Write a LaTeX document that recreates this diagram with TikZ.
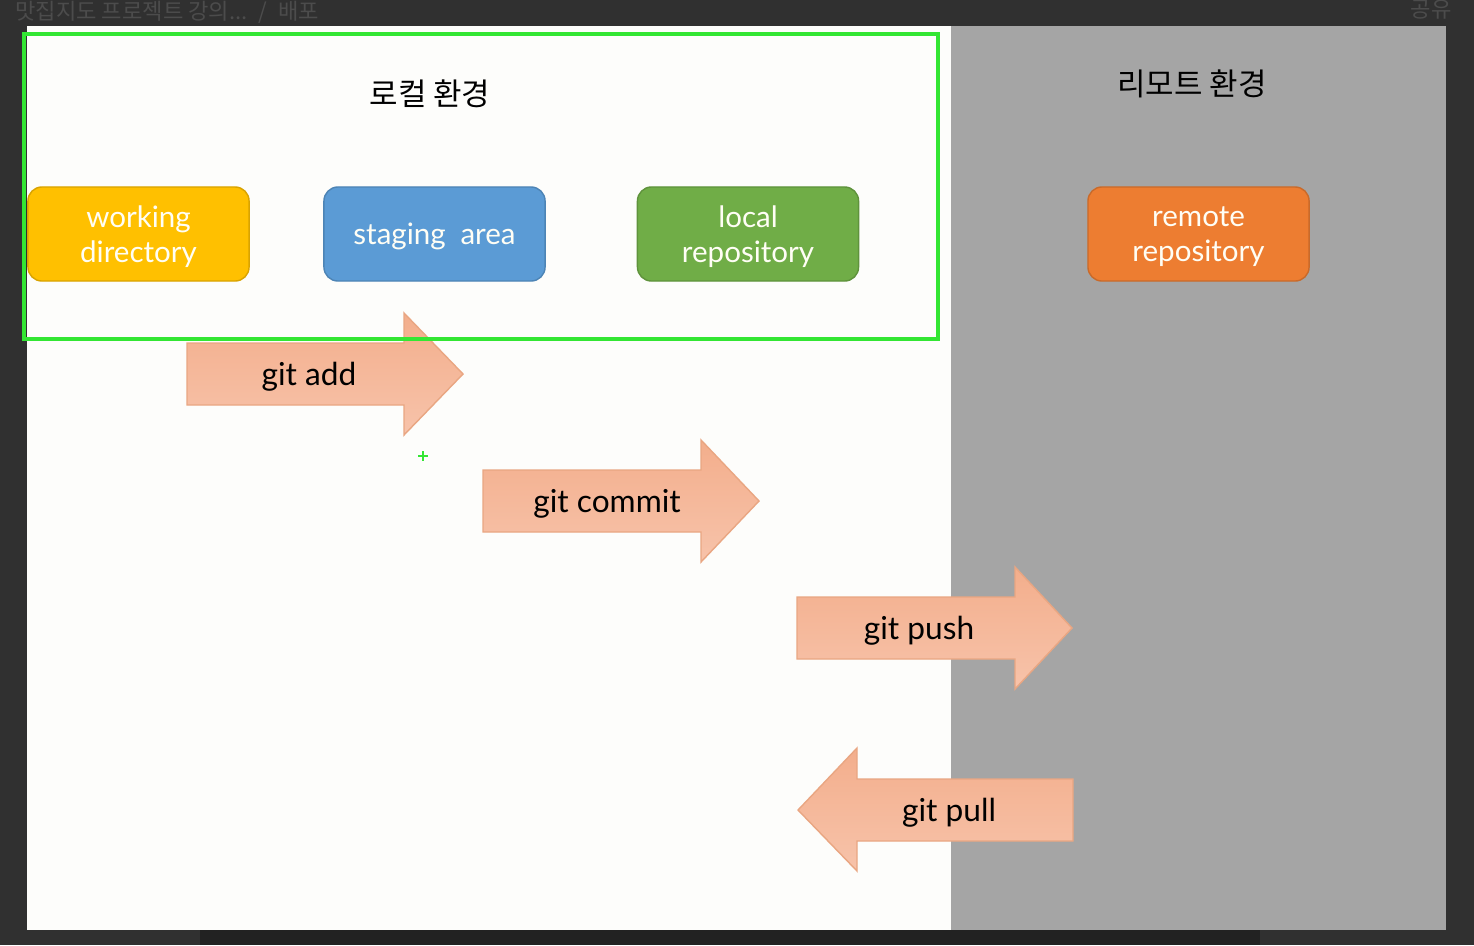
\documentclass[tikz,border=0pt]{standalone}
\usepackage{fontspec}
\setmainfont{Lato}
\newfontfamily\kfont{Noto Sans CJK KR}
\definecolor{bgdark}{HTML}{303030}
\definecolor{bgdeep}{HTML}{222222}
\definecolor{bartext}{HTML}{4C4C4C}
\definecolor{pagewhite}{HTML}{FDFDFB}
\definecolor{panelgray}{HTML}{A5A5A5}
\definecolor{framegreen}{HTML}{33E633}
\definecolor{wdyellow}{HTML}{FFC000}
\definecolor{stblue}{HTML}{5B9BD5}
\definecolor{lrgreen}{HTML}{70AD47}
\definecolor{rrorange}{HTML}{ED7D31}
\definecolor{arrowtop}{HTML}{F3AE8C}
\definecolor{arrowbot}{HTML}{F7C3AA}
\definecolor{arrowline}{HTML}{E9A682}
\tikzset{
  gitbox/.style={
    shape = rectangle,
    rounded corners=0.14cm,
    draw=#1!85!black,
    fill=#1,
    minimum width=2.21cm,
    minimum height=0.94cm,
    text depth=0pt,
    text=white!96!yellow,
    align=center,
    font=\fontsize{8.4}{10}\selectfont
  },
  gitarrow/.style={
    draw=arrowline,
    top color=arrowtop,
    bottom color=arrowbot,
    line width=0.4pt
  },
  cmd/.style={
    font=\fontsize{9}{11}\selectfont,
    text=black
  },
  envtitle/.style={
    font=\kfont\fontsize{8.8}{10}\selectfont,
    text=black
  }
}

\begin{document}
\begin{tikzpicture}[x=0.01cm,y=-0.01cm]
  \useasboundingbox (0,0) rectangle (1474,945);
  % screen and panels
  \fill[bgdark] (0,0) rectangle (1474,945);
  \fill[bgdeep] (200,930) rectangle (1260,945);
  \fill[pagewhite] (27,26) rectangle (951,930);
  \fill[panelgray] (951,26) rectangle (1446,930);
  \node[anchor=west,text=bartext,font=\kfont\fontsize{6.3}{8}\selectfont] (crumb) at (3,12) {맛집지도 프로젝트 강의...\enspace /\enspace 배포};
  \node[anchor=east,text=bartext,font=\kfont\fontsize{6.3}{8}\selectfont] (share) at (1464,10) {공유};
  % block arrows
  \draw[gitarrow] (187,343) -- (404,343) -- (404,313) -- (463,374) -- (404,435) -- (404,405) -- (187,405) -- cycle;
  \draw[gitarrow] (483,470) -- (701,470) -- (701,440) -- (759,501) -- (701,562) -- (701,532) -- (483,532) -- cycle;
  \draw[gitarrow] (797,597) -- (1015,597) -- (1015,567) -- (1072,628) -- (1015,689) -- (1015,659) -- (797,659) -- cycle;
  \draw[gitarrow] (1073,779) -- (857,779) -- (857,748) -- (798,810) -- (857,871) -- (857,841) -- (1073,841) -- cycle;
  \node[cmd] (add) at (309,377) {git add};
  \node[cmd] (commit) at (607,504) {git commit};
  \node[cmd] (push) at (919,631) {git push};
  \node[cmd] (pull) at (949,813) {git pull};
  % local environment
  \draw[framegreen,line width=0.9pt] (24,34) rectangle (938,339);
  \node[envtitle] (local) at (430,94) {로컬 환경};
  \node[gitbox=wdyellow] (wd) at (138.5,234) {working\\directory};
  \node[gitbox=stblue] (stage) at (434.5,234) {staging\enspace area};
  \node[gitbox=lrgreen] (repo) at (748,234) {local\\repository};
  % remote environment
  \node[envtitle] (remote) at (1192,84) {리모트 환경};
  \node[gitbox=rrorange] (origin) at (1198.5,234) {remote\\repository};
  % cursor
  \draw[framegreen,line width=0.8pt] (418,456) -- (428,456) (423,451) -- (423,461);
\end{tikzpicture}
\end{document}
